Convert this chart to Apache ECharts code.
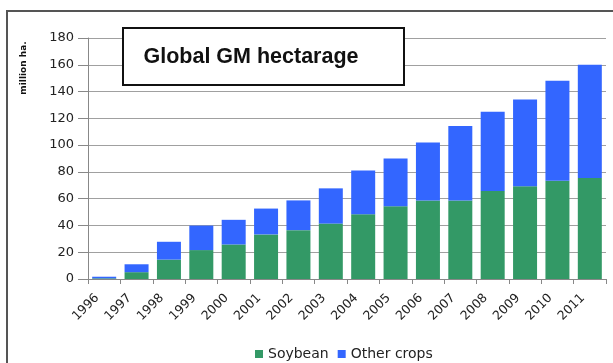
<!DOCTYPE html>
<html>
<head>
<meta charset="utf-8">
<script src="https://cdn.jsdelivr.net/npm/echarts@6/dist/echarts.min.js"></script>
<style>
html,body{margin:0;padding:0;background:#fff;}
#c{width:613px;height:363px;}
</style>
</head>
<body>
<div id="c"></div>
<script>
var years = ['1996','1997','1998','1999','2000','2001','2002','2003','2004','2005','2006','2007','2008','2009','2010','2011'];
var soybean = [0.5, 5.1, 14.5, 21.6, 25.8, 33.3, 36.5, 41.4, 48.4, 54.4, 58.6, 58.6, 65.8, 69.2, 73.3, 75.4];
var otherCrops = [1.2, 5.9, 13.3, 18.3, 18.4, 19.3, 22.2, 26.3, 32.6, 35.6, 43.4, 55.7, 59.2, 64.8, 74.7, 84.6];
var yTicks = [0, 20, 40, 60, 80, 100, 120, 140, 160, 180];

var labelFont = 'DejaVu Sans';
var chart = echarts.init(document.getElementById('c'));
chart.setOption({
  animation: false,
  backgroundColor: '#fff',
  grid: { left: 88, right: 7, top: 38, bottom: 84, containLabel: false },
  graphic: [
    { type: 'rect', shape: { x: 7, y: 11, width: 620, height: 370 },
      style: { fill: 'none', stroke: '#555', lineWidth: 2 }, z: 0 },
    { type: 'rect', shape: { x: 123, y: 28, width: 281, height: 57 },
      style: { fill: '#fff', stroke: '#111', lineWidth: 2 }, z: 100 },
    { type: 'text', x: 251, y: 57, z: 101,
      style: { text: 'Global GM hectarage', font: 'bold 21.5px "Liberation Sans"', fill: '#111',
               textAlign: 'center', textVerticalAlign: 'middle' } },
    { type: 'text', x: 24, y: 68, rotation: Math.PI / 2, z: 101,
      style: { text: 'million ha.', font: 'bold 9px "DejaVu Sans"', fill: '#111',
               textAlign: 'center', textVerticalAlign: 'middle' } }
  ],
  legend: {
    top: 342, left: 250,
    itemWidth: 8, itemHeight: 8, itemGap: 9,
    icon: 'rect',
    textStyle: { fontFamily: labelFont, fontSize: 14, color: '#222' },
    data: ['Soybean', 'Other crops']
  },
  xAxis: {
    type: 'category', data: years,
    axisLine: { lineStyle: { color: '#888', width: 1 } },
    axisTick: { show: true, length: 5, alignWithLabel: false, lineStyle: { color: '#888' } },
    axisLabel: { rotate: 45, margin: 10, padding: [0, 10, 0, 0], fontFamily: labelFont, fontSize: 12.5, color: '#222', interval: 0 }
  },
  yAxis: {
    type: 'value', min: 0, max: 180, interval: 20,
    axisLine: { show: true, lineStyle: { color: '#888', width: 1 } },
    axisTick: { show: true, length: 10, lineStyle: { color: '#888' } },
    axisLabel: { margin: 14, fontFamily: labelFont, fontSize: 13, color: '#222',
      formatter: function (v) { return yTicks.indexOf(v) >= 0 ? String(v) : ''; } },
    splitLine: { show: true, lineStyle: { color: '#a0a0a0', width: 1 } }
  },
  series: [
    { name: 'Soybean', type: 'bar', stack: 'a', data: soybean, barWidth: 24,
      itemStyle: { color: '#339966' } },
    { name: 'Other crops', type: 'bar', stack: 'a', data: otherCrops, barWidth: 24,
      itemStyle: { color: '#3366FF' } }
  ]
});
</script>
</body>
</html>
